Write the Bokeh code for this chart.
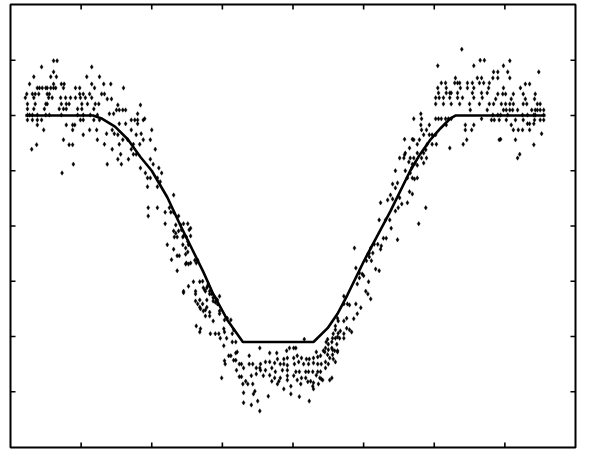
import math
from bokeh.plotting import figure
from bokeh.models import Range1d, ColumnDataSource
from bokeh.embed import file_html
from bokeh.resources import INLINE

# ---- data (arbitrary units: time 0..8, flux 0..8) ----
x_ticks = [1, 2, 3, 4, 5, 6, 7]
y_ticks = [1, 2, 3, 4, 5, 6, 7]
x_lo, x_hi = 0.0, 8.0
y_lo, y_hi = -0.01, 8.01

model_x = [0.21, 1.17, 1.30, 1.48, 1.66, 1.84, 2.00, 2.22, 2.41, 2.73, 2.87, 3.07, 3.29,
           4.29, 4.49, 4.63, 4.77, 5.01, 5.38, 5.66, 5.80, 5.95, 6.09, 6.23, 6.30, 7.575]
model_y = [6.00, 6.00, 5.94, 5.80, 5.57, 5.25, 5.00, 4.52, 4.00, 3.17, 2.77, 2.30, 1.90,
           1.90, 2.15, 2.41, 2.75, 3.38, 4.27, 5.00, 5.30, 5.57, 5.77, 5.95, 6.00, 6.00]

before_transit = [
    (0.61, 6.99), (0.66, 6.99), (0.44, 6.88), (1.15, 6.88), (0.61, 6.79),
    (0.33, 6.70), (0.57, 6.70), (0.65, 6.70), (1.08, 6.70), (1.26, 6.70),
    (0.27, 6.57), (0.61, 6.57), (0.72, 6.57), (0.76, 6.57), (1.15, 6.57),
    (0.38, 6.50), (0.41, 6.50), (0.45, 6.50), (0.50, 6.50), (0.52, 6.50), (0.57, 6.50),
    (0.61, 6.50), (0.64, 6.50), (0.75, 6.50), (0.92, 6.50), (0.98, 6.50), (1.19, 6.50),
    (0.23, 6.39), (0.31, 6.39), (0.35, 6.39), (0.40, 6.39), (0.52, 6.39), (0.55, 6.39),
    (0.98, 6.39), (1.03, 6.39), (1.12, 6.39),
    (0.21, 6.32), (0.33, 6.32), (0.54, 6.32), (0.59, 6.32), (0.71, 6.32), (0.78, 6.32),
    (0.85, 6.32), (0.92, 6.32), (0.99, 6.32), (1.06, 6.32), (1.15, 6.32),
    (0.24, 6.21), (0.35, 6.21), (0.50, 6.21), (0.52, 6.21), (0.72, 6.21), (0.79, 6.21),
    (0.83, 6.21), (1.01, 6.21), (1.09, 6.21), (1.20, 6.21), (1.25, 6.21),
    (0.24, 6.12), (0.33, 6.12), (0.48, 6.12), (0.69, 6.12), (0.75, 6.12), (0.79, 6.12),
    (0.95, 6.12), (1.01, 6.12), (1.18, 6.12),
    (0.24, 6.01), (0.27, 6.01), (0.31, 6.01), (0.38, 6.01), (0.50, 6.01), (0.55, 6.01),
    (0.72, 6.01), (0.95, 6.01), (1.03, 6.01), (1.13, 6.01), (1.23, 6.01),
    (0.24, 5.92), (0.31, 5.92), (0.38, 5.92), (0.44, 5.92), (0.99, 5.92), (1.03, 5.92),
    (1.18, 5.92), (1.26, 5.92),
    (0.38, 5.83), (0.79, 5.83), (0.88, 5.83), (0.91, 5.83),
    (0.47, 5.74), (0.88, 5.74), (1.12, 5.74), (1.22, 5.74), (1.03, 5.65),
    (0.75, 5.56), (1.23, 5.56), (0.37, 5.47), (0.83, 5.47), (0.88, 5.47),
    (0.30, 5.39), (0.89, 5.12), (0.73, 4.96),
]

ingress = [
    (1.32, 6.57), (1.42, 6.57), (1.60, 6.50), (1.29, 6.39), (1.33, 6.39), (1.37, 6.30),
    (1.43, 6.30), (1.52, 6.19), (1.84, 6.19), (1.50, 6.10), (1.54, 6.10), (1.59, 6.10),
    (1.63, 6.10), (1.40, 6.03), (1.46, 6.03), (1.80, 6.03),
    (1.71, 5.92), (1.76, 5.92), (1.80, 5.92), (1.88, 5.92), (1.90, 5.94),
    (1.54, 5.85), (1.63, 5.85), (1.80, 5.85), (1.44, 5.74), (1.71, 5.74), (2.00, 5.74),
    (1.36, 5.67), (1.47, 5.67), (1.85, 5.67), (1.52, 5.65), (1.78, 5.65),
    (1.59, 5.56), (1.66, 5.56), (1.88, 5.56), (1.98, 5.56),
    (1.33, 5.48), (1.54, 5.48), (1.74, 5.48), (1.83, 5.48),
    (1.44, 5.39), (1.71, 5.39), (2.05, 5.39), (1.56, 5.30), (1.74, 5.30), (1.78, 5.30),
    (1.52, 5.21), (1.67, 5.21), (1.98, 5.21), (1.37, 5.12), (1.57, 5.12), (2.02, 5.12),
    (1.84, 5.05), (2.10, 5.05), (1.91, 4.96), (2.14, 4.96),
    (1.94, 4.87), (1.98, 4.87), (2.08, 4.87), (2.12, 4.80), (1.94, 4.71), (2.08, 4.71),
    (2.31, 4.56), (1.95, 4.33), (2.08, 4.33), (2.25, 4.33),
    (2.19, 4.25), (2.27, 4.25), (2.31, 4.25), (1.95, 4.18), (2.38, 4.18),
    (2.19, 4.04), (2.34, 4.02), (2.41, 4.02), (2.45, 4.04), (2.51, 4.04),
    (2.55, 3.96), (2.42, 3.93), (2.53, 3.93), (2.31, 3.91), (2.38, 3.91), (2.34, 3.87),
    (2.45, 3.82), (2.55, 3.82), (2.32, 3.80), (2.36, 3.80), (2.44, 3.80), (2.49, 3.80),
    (2.22, 3.66), (2.44, 3.66), (2.52, 3.66), (2.51, 3.72), (2.48, 3.60),
    (2.31, 3.58), (2.51, 3.53), (2.48, 3.49), (2.36, 3.46), (2.39, 3.46), (2.28, 3.39),
    (2.61, 3.38), (2.65, 3.38), (2.48, 3.31), (2.52, 3.31), (2.49, 3.33), (2.55, 3.33),
    (2.63, 3.33), (2.36, 3.19),
    (2.59, 2.99), (2.68, 2.99), (2.72, 3.00), (2.52, 2.91), (2.79, 2.91), (2.80, 2.95),
    (2.73, 2.88), (2.78, 2.88), (2.75, 2.84), (2.45, 2.82), (2.62, 2.82), (2.76, 2.82),
    (2.82, 2.82), (2.45, 2.79), (2.62, 2.77), (2.82, 2.77), (2.85, 2.77),
    (2.96, 2.73), (2.87, 2.70), (2.90, 2.70), (2.68, 2.66), (2.78, 2.66), (2.93, 2.66),
    (2.62, 2.64), (2.87, 2.64), (2.90, 2.62), (2.65, 2.59), (2.72, 2.59), (2.93, 2.59),
    (2.68, 2.53), (2.78, 2.53), (2.69, 2.50), (2.76, 2.48), (2.73, 2.46),
    (2.82, 2.44), (2.96, 2.46), (2.96, 2.41), (2.82, 2.37), (2.76, 2.37),
    (3.07, 2.33), (3.03, 2.30), (3.12, 2.30), (2.87, 2.28),
    (2.63, 2.19), (2.69, 2.14), (2.68, 2.08), (3.02, 2.14), (3.16, 2.12), (3.03, 2.08),
    (2.83, 2.05), (2.90, 2.05), (2.95, 2.05), (3.14, 2.05), (2.97, 1.97), (3.06, 1.97),
    (3.14, 1.90), (3.19, 1.90), (3.02, 1.83),
]

in_transit = [
    (3.19, 1.70), (3.21, 1.72), (3.09, 1.65), (3.12, 1.65), (3.38, 1.65),
    (3.03, 1.56), (3.04, 1.50), (3.16, 1.57), (3.19, 1.57), (3.24, 1.50), (3.27, 1.50),
    (3.38, 1.50), (3.43, 1.50), (3.30, 1.43), (3.48, 1.43), (3.53, 1.43), (3.20, 1.39),
    (2.99, 1.25), (3.24, 1.27), (3.27, 1.27), (3.41, 1.29), (3.48, 1.32),
    (3.33, 1.19), (3.36, 1.14), (3.29, 1.14), (3.43, 1.14),
    (3.46, 1.01), (3.44, 0.96), (3.30, 0.98), (3.50, 0.83), (3.30, 0.80), (3.41, 0.76),
    (3.53, 0.65),
    (3.53, 1.79), (3.67, 1.70), (3.77, 1.70), (3.91, 1.74), (3.95, 1.79), (4.01, 1.79),
    (4.04, 1.79), (4.16, 1.95),
    (3.78, 1.59), (3.87, 1.59), (3.92, 1.61), (4.01, 1.61), (4.06, 1.65), (4.12, 1.61),
    (4.19, 1.59), (4.23, 1.59), (4.29, 1.61), (4.35, 1.63), (4.39, 1.65),
    (4.33, 1.72), (4.45, 1.72), (4.50, 1.76), (4.49, 1.67), (4.56, 1.76), (4.63, 1.72),
    (4.47, 1.90), (4.50, 1.86), (4.62, 1.86), (4.60, 1.97),
    (3.54, 1.50), (3.61, 1.54), (3.67, 1.54), (3.74, 1.52), (3.82, 1.50), (3.87, 1.50),
    (3.92, 1.48), (4.02, 1.50), (4.08, 1.54), (4.15, 1.50), (4.22, 1.50), (4.29, 1.52),
    (4.35, 1.50), (4.40, 1.50), (4.46, 1.54),
    (3.54, 1.39), (3.61, 1.39), (3.70, 1.43), (3.75, 1.36), (3.85, 1.39), (3.92, 1.39),
    (4.04, 1.36), (4.09, 1.36), (4.18, 1.36), (4.22, 1.36), (4.28, 1.36), (4.35, 1.36),
    (4.39, 1.36), (4.46, 1.43),
    (3.58, 1.29), (3.67, 1.30), (3.74, 1.25), (3.82, 1.25), (3.92, 1.29), (4.01, 1.29),
    (4.12, 1.25), (4.18, 1.25), (4.33, 1.30), (4.38, 1.25), (4.40, 1.23),
    (3.70, 1.19), (3.80, 1.19), (3.92, 1.21), (4.06, 1.21), (4.21, 1.18), (4.25, 1.19),
    (4.29, 1.16), (3.78, 1.14), (3.97, 1.10), (4.11, 1.14), (4.28, 1.10), (4.29, 1.05),
    (3.87, 1.05), (3.97, 0.96), (4.09, 0.91), (4.23, 0.83), (3.65, 0.92),
    (4.42, 1.21), (4.52, 1.21), (4.55, 1.25), (4.36, 1.14),
]

egress = [
    (4.64, 2.28), (4.60, 2.19), (4.67, 2.10), (4.57, 2.05), (4.63, 1.99), (4.49, 1.95),
    (4.55, 1.90), (4.55, 1.79), (4.46, 1.79), (4.43, 1.74), (4.56, 1.67), (4.52, 1.61),
    (4.60, 1.54), (4.50, 1.50),
    (5.58, 5.57), (5.69, 5.57), (5.76, 5.48), (5.65, 5.41), (5.59, 5.32), (5.58, 5.29),
    (5.51, 5.23), (5.57, 5.23), (5.71, 5.23), (5.64, 5.16), (5.69, 5.12), (5.76, 5.10),
    (5.45, 5.00), (5.59, 5.00), (5.62, 4.87), (5.72, 4.85),
    (5.41, 4.76), (5.48, 4.78), (5.45, 4.69), (5.65, 4.62), (5.38, 4.56), (5.41, 4.49),
    (5.51, 4.51), (5.34, 4.47), (5.62, 4.42), (5.54, 4.40), (5.24, 4.42), (5.45, 4.27),
    (5.49, 4.33), (5.22, 4.11), (5.31, 4.11), (5.37, 4.11), (5.39, 3.96), (5.78, 4.04),
    (5.28, 3.78), (5.32, 3.78), (5.48, 3.75), (5.15, 3.67), (5.20, 3.67), (5.25, 3.64),
    (5.10, 3.60), (5.24, 3.58), (4.87, 3.60), (5.08, 3.51), (5.13, 3.51), (5.06, 3.49),
    (5.08, 3.44), (5.11, 3.37), (5.04, 3.37), (5.17, 3.22), (5.22, 3.19), (4.89, 3.24),
    (4.94, 3.15), (4.98, 3.13), (5.00, 3.10), (4.94, 3.06), (5.07, 2.99),
    (4.91, 2.95), (5.03, 2.82), (5.06, 2.77), (5.10, 2.68),
    (4.72, 2.73), (4.72, 2.59), (4.77, 2.59), (4.80, 2.57), (4.89, 2.59), (4.96, 2.52),
    (4.91, 2.41), (4.63, 2.33), (4.72, 2.28), (4.76, 2.33), (4.86, 2.32),
    (4.60, 2.12), (4.64, 2.06), (4.72, 2.05), (4.76, 2.15), (4.80, 2.12), (4.83, 2.08),
    (4.56, 1.97), (4.66, 1.97), (4.72, 1.97), (4.59, 1.74), (4.63, 1.74), (4.57, 1.59),
    (5.71, 5.94), (5.82, 5.94), (5.81, 6.03), (5.81, 5.83), (5.93, 5.83),
    (5.82, 5.74), (5.89, 5.74), (5.85, 5.65), (5.93, 5.65), (5.97, 5.65), (6.02, 5.65),
    (5.71, 5.56), (5.79, 5.56), (5.90, 5.48), (5.97, 5.48), (6.03, 5.48),
    (5.76, 5.32), (5.85, 5.32), (5.88, 5.38), (6.22, 5.41),
    (5.66, 5.23), (5.82, 5.23), (5.89, 5.23), (5.73, 5.14), (5.85, 5.14), (5.68, 5.05),
    (5.66, 4.96), (5.69, 4.87), (5.76, 4.87), (5.69, 4.58), (5.88, 4.33),
]

after_transit = [
    (6.39, 7.20), (6.05, 6.90), (6.56, 6.90), (6.65, 7.00), (6.71, 7.00),
    (6.30, 6.68), (6.61, 6.68), (6.67, 6.68),
    (6.10, 6.59), (6.16, 6.59), (6.29, 6.59), (6.33, 6.59), (6.36, 6.59), (6.47, 6.59),
    (6.54, 6.59), (6.64, 6.59), (6.70, 6.59), (6.78, 6.59),
    (6.05, 6.50), (6.17, 6.50), (6.37, 6.50), (6.47, 6.50), (6.56, 6.50), (6.77, 6.50),
    (6.06, 6.41), (6.17, 6.41), (6.22, 6.41), (6.24, 6.41), (6.33, 6.41), (6.54, 6.41),
    (6.67, 6.41), (6.75, 6.41),
    (6.02, 6.32), (6.07, 6.32), (6.13, 6.32), (6.22, 6.32), (6.33, 6.32), (6.40, 6.32),
    (6.56, 6.32), (6.68, 6.32),
    (6.02, 6.21), (6.13, 6.21), (6.24, 6.21), (6.36, 6.21), (6.50, 6.21), (6.64, 6.21),
    (6.78, 6.21), (6.51, 6.10), (6.75, 6.10),
    (6.02, 5.94), (6.06, 5.94), (6.10, 5.94), (6.16, 5.94), (6.20, 5.94), (6.24, 5.94),
    (6.67, 5.94), (6.17, 5.83), (6.44, 5.83), (6.56, 5.83), (6.44, 5.74), (6.53, 5.74),
    (6.46, 5.56), (6.41, 5.48),
    (7.07, 6.99), (6.98, 6.90), (6.84, 6.79), (6.90, 6.79), (7.04, 6.79), (7.48, 6.79),
    (6.83, 6.68), (6.90, 6.68), (7.07, 6.68), (7.29, 6.57), (7.35, 6.57),
    (6.98, 6.50), (7.22, 6.50),
    (6.90, 6.39), (6.97, 6.39), (7.01, 6.39), (7.12, 6.39), (7.26, 6.39), (7.43, 6.39),
    (6.87, 6.30), (7.09, 6.30), (7.29, 6.30), (7.42, 6.30),
    (6.84, 6.21), (6.95, 6.21), (7.01, 6.21), (7.07, 6.21), (7.12, 6.21), (7.26, 6.21),
    (7.31, 6.21), (7.46, 6.21), (7.50, 6.21),
    (6.98, 6.10), (7.02, 6.10), (7.07, 6.10), (7.11, 6.10), (7.18, 6.10), (7.38, 6.10),
    (7.43, 6.10), (7.46, 6.10), (7.50, 6.10), (7.55, 6.10),
    (6.83, 6.01), (6.90, 6.01), (6.94, 6.01), (7.04, 6.01), (7.25, 6.01), (7.32, 6.01),
    (7.41, 6.01), (7.43, 6.01), (7.55, 6.01),
    (6.81, 5.92), (6.85, 5.92), (6.92, 5.92), (7.02, 5.92), (7.15, 5.92), (7.26, 5.92),
    (7.42, 5.92), (7.50, 5.92), (7.55, 5.92),
    (7.32, 5.85), (7.35, 5.85), (7.41, 5.85), (7.09, 5.83),
    (7.19, 5.74), (7.25, 5.74), (7.35, 5.74), (7.12, 5.74),
    (7.52, 5.67), (6.92, 5.56), (7.15, 5.56), (7.41, 5.47), (6.94, 5.57),
    (7.21, 5.30), (7.18, 5.23),
]

# ---- build ----
points = before_transit + ingress + in_transit + egress + after_transit
src = ColumnDataSource(data=dict(t=[q[0] for q in points], f=[q[1] for q in points]))

p = figure(frame_width=565, frame_height=443,
           x_range=Range1d(x_lo, x_hi), y_range=Range1d(y_lo, y_hi),
           x_axis_type=None, y_axis_type=None,
           output_backend="svg", toolbar_location=None,
           min_border_left=10, min_border_right=15, min_border_top=4, min_border_bottom=7,
           background_fill_color="white", border_fill_color="white")

p.outline_line_color = "black"
p.outline_line_width = 2
p.outline_line_alpha = 1

# inward tick marks on all four sides (half of each dash is clipped by the frame)
n = len(x_ticks)
m = len(y_ticks)
tick_style = dict(marker="dash", size=10, line_color="black", line_width=1.6)
p.scatter(x=x_ticks, y=[y_lo] * n, angle=math.pi / 2, **tick_style)
p.scatter(x=x_ticks, y=[y_hi] * n, angle=math.pi / 2, **tick_style)
p.scatter(x=[x_lo] * m, y=y_ticks, angle=0, **tick_style)
p.scatter(x=[x_hi] * m, y=y_ticks, angle=0, **tick_style)

p.scatter("t", "f", source=src, marker="diamond", size=4.5,
          fill_color="black", line_color="black", line_width=0.4)
p.line(model_x, model_y, line_color="black", line_width=2.6)

open("out.html", "w").write(file_html(p, INLINE))
